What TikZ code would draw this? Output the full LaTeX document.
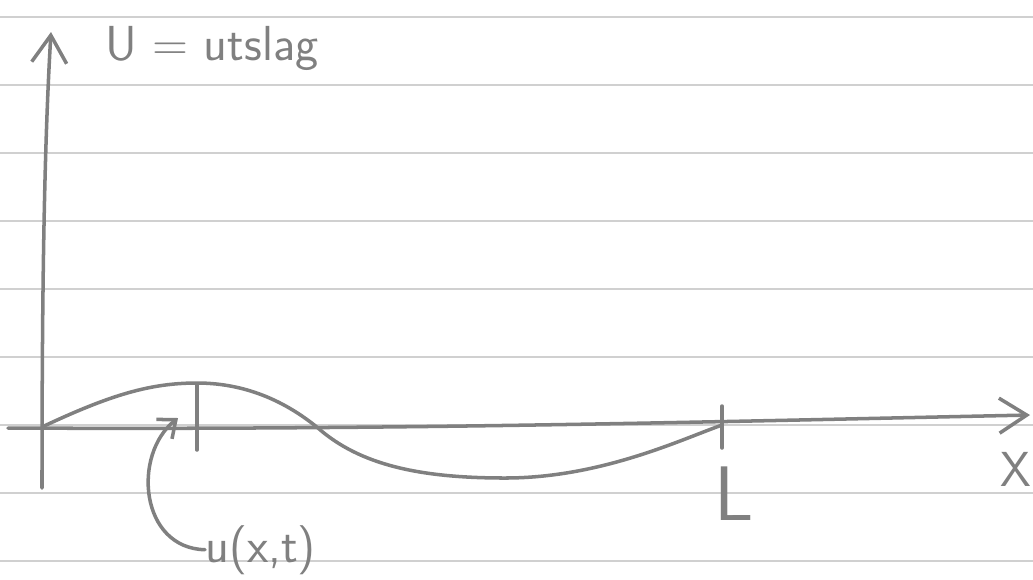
\documentclass[tikz,border=0pt]{standalone}
\usepackage{tikz}
\usetikzlibrary{arrows.meta}
\definecolor{pencil}{RGB}{128,128,128}
\definecolor{paper}{RGB}{208,208,208}
\tikzstyle{arrow} = [-{Straight Barb[length=5.5mm,width=7mm]}]
\tikzstyle{smallarrow} = [-{Straight Barb[length=3mm,width=5mm]}]
\tikzstyle{pen} = [draw=pencil,line width=2pt,line cap=round]
\tikzstyle{ruling} = [draw=paper,line width=0.8pt]
\tikzstyle{hand} = [text=pencil,inner sep=0pt,font=\sffamily\fontsize{28}{30}\selectfont]

\begin{document}
\begin{tikzpicture}[x=0.02cm,y=-0.02cm]
    \useasboundingbox (0,0) rectangle (1033,579);
    % ruled paper
    \foreach \ly in {17,85,153,221,289,357,425,493,561}
        \draw[ruling] (0,\ly) -- (1033,\ly);

    % axes
    \coordinate (o) at (42,427);
    \coordinate (ybot) at (42,488);
    \coordinate (ytop) at (51,32);
    \coordinate (xl) at (8,428);
    \coordinate (xr) at (1030,415);
    \draw[arrow,pen] (ybot) .. controls (42,300) and (44,150) .. (ytop);
    \draw[arrow,pen] (xl) .. controls (400,430) and (700,422) .. (xr);

    % string
    \coordinate (peak) at (197,383);
    \coordinate (cross) at (318,428);
    \coordinate (trough) at (505,478);
    \coordinate (fix) at (722,425);
    \draw[pen] (o) .. controls (110,395) and (150,383) .. (peak)
        .. controls (250,383) and (290,405) .. (cross)
        .. controls (360,465) and (420,478) .. (trough)
        .. controls (600,478) and (680,440) .. (fix);

    % ticks
    \draw[pen] (197,385) -- (197,450);
    \draw[pen] (722,406) -- (722,448);

    % labels
    \node[hand,anchor=base west] (ulab) at (105,60) {U = utslag};
    \node[hand,anchor=base west] (xlab) at (1000,486) {X};
    \node[hand,anchor=base west,font=\sffamily\fontsize{44}{46}\selectfont] (llab) at (714,520) {L};
    \node[hand,anchor=base west] (uxt) at (205,562) {u(x,t)};

    \coordinate (tip) at (178,418);
    \draw[smallarrow,pen] (uxt.west) .. controls (140,548) and (132,455) .. (tip);
\end{tikzpicture}
\end{document}
